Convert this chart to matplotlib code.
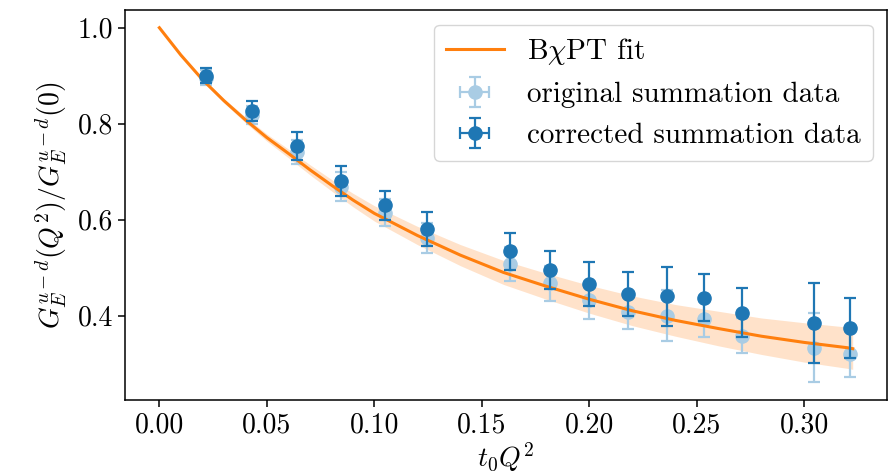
import numpy as np
import matplotlib
matplotlib.use("Agg")
import matplotlib.pyplot as plt

plt.rcParams['font.family'] = 'serif'
plt.rcParams['font.serif'] = ['cmr10']
plt.rcParams['mathtext.fontset'] = 'cm'
plt.rcParams['axes.formatter.use_mathtext'] = True
plt.rcParams['axes.unicode_minus'] = False

# t0 Q^2 values of the lattice points
t0Q2 = [0.0217, 0.0432, 0.0639, 0.0846, 0.1048, 0.1245, 0.1630, 0.1816,
        0.1999, 0.2181, 0.2359, 0.2534, 0.2708, 0.3047, 0.3213]

# original summation data
orig_val = [0.896, 0.818, 0.740, 0.669, 0.614, 0.561, 0.507, 0.467,
            0.432, 0.407, 0.400, 0.393, 0.358, 0.333, 0.319]
orig_err = [0.016, 0.019, 0.025, 0.031, 0.028, 0.031, 0.035, 0.037,
            0.039, 0.036, 0.053, 0.037, 0.037, 0.072, 0.048]

# corrected summation data
corr_val = [0.900, 0.827, 0.754, 0.681, 0.630, 0.581, 0.534, 0.495,
            0.466, 0.445, 0.440, 0.437, 0.406, 0.385, 0.374]
corr_err = [0.016, 0.021, 0.029, 0.031, 0.030, 0.035, 0.039, 0.040,
            0.046, 0.045, 0.061, 0.049, 0.051, 0.083, 0.062]

# BChPT fit curve and its uncertainty
fit_x = [0.00, 0.01, 0.02, 0.03, 0.04, 0.05, 0.06, 0.07, 0.08, 0.09,
         0.10, 0.12, 0.14, 0.16, 0.18, 0.20, 0.22, 0.24, 0.26, 0.28,
         0.30, 0.32, 0.3225]
fit_y = [1.000, 0.943, 0.892, 0.848, 0.808, 0.771, 0.738, 0.704, 0.672,
         0.641, 0.613, 0.567, 0.526, 0.490, 0.461, 0.434, 0.410, 0.390,
         0.373, 0.357, 0.344, 0.333, 0.331]
fit_err = [0.000, 0.0015, 0.003, 0.0045, 0.006, 0.0075, 0.009, 0.0105,
           0.012, 0.014, 0.016, 0.019, 0.022, 0.025, 0.027, 0.029, 0.031,
           0.033, 0.036, 0.038, 0.041, 0.043, 0.043]

fit_x = np.array(fit_x)
fit_y = np.array(fit_y)
fit_err = np.array(fit_err)
zeros = np.zeros(len(t0Q2))

fig = plt.figure(figsize=(8.92, 4.76), dpi=100)
ax = fig.add_axes([0.1398, 0.1597, 0.855, 0.8193])

ax.fill_between(fit_x, fit_y - fit_err, fit_y + fit_err,
                color='#ff7f0e', alpha=0.22, linewidth=0, zorder=1)
ax.errorbar(t0Q2, orig_val, yerr=orig_err, xerr=zeros, fmt='o',
            color='#a9cce4', ms=9.5, elinewidth=1.6, capsize=4.5,
            capthick=1.6, label='original summation data', zorder=2)
ax.plot(fit_x, fit_y, color='#ff7f0e', lw=2.2, label=r'B$\chi$PT fit',
        zorder=3, solid_joinstyle='round')
ax.errorbar(t0Q2, corr_val, yerr=corr_err, xerr=zeros, fmt='o',
            color='#1f77b4', ms=9.5, elinewidth=1.6, capsize=4.5,
            capthick=1.6, label='corrected summation data', zorder=4)

ax.set_xlabel(r'$t_0Q^2$', fontsize=20, labelpad=2)
ax.set_ylabel(r'$G_E^{u-d}(Q^2)/G_E^{u-d}(0)$', fontsize=20, labelpad=6)
ax.set_yticks([0.4, 0.6, 0.8, 1.0])
ax.set_xticks([0.0, 0.05, 0.1, 0.15, 0.2, 0.25, 0.3])
ax.xaxis.set_major_formatter(matplotlib.ticker.FormatStrFormatter('%.2f'))
ax.yaxis.set_major_formatter(matplotlib.ticker.FormatStrFormatter('%.1f'))
ax.tick_params(labelsize=20, length=5, width=1.1)
for s in ax.spines.values():
    s.set_linewidth(1.1)

ax.legend(loc='upper right', fontsize=21, framealpha=0.8,
          borderaxespad=0.5, handlelength=2.0)

fig.savefig('out.png', dpi=100)
